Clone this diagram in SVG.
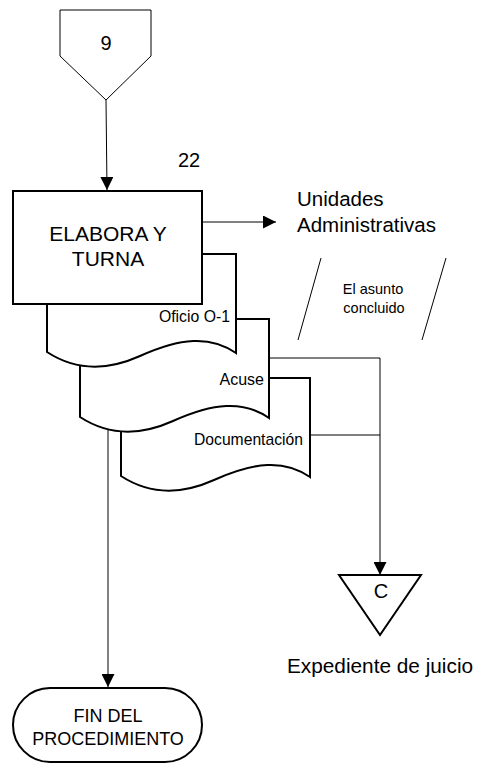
<svg xmlns="http://www.w3.org/2000/svg" width="483" height="764" viewBox="0 0 483 764">
<style>
text{font-family:"Liberation Sans",Arial,sans-serif;fill:#000}
.shape{fill:#fff;stroke:#000;stroke-width:2}
.thin{fill:#fff;stroke:#000;stroke-width:1}
.conn{fill:none;stroke:#000;stroke-width:1}
.mid{text-anchor:middle}
.end{text-anchor:end}
</style>
<defs>
<marker id="arr" viewBox="0 0 10 10" refX="10" refY="5" markerWidth="13" markerHeight="13" markerUnits="userSpaceOnUse" orient="auto">
<path d="M0,0 L10,5 L0,10 Z" fill="#000"/>
</marker>
<path id="doc" d="M0,0 H189 V99 C163,81 133,84 93,102 C53,120 23,113 0,98 Z"/>
</defs>
<rect width="483" height="764" fill="#fff"/>

<g id="connectors">
<line class="conn" x1="106" y1="100" x2="107" y2="190" marker-end="url(#arr)"/>
<line class="conn" x1="202" y1="222" x2="276" y2="222" marker-end="url(#arr)"/>
<polyline class="conn" points="269,358 380,358 380,575" marker-end="url(#arr)"/>
<line class="conn" x1="309" y1="435" x2="380" y2="435"/>
<line class="conn" x1="108" y1="429" x2="108" y2="687" marker-end="url(#arr)"/>
<line class="conn" x1="321" y1="258" x2="298" y2="340"/>
<line class="conn" x1="446" y1="258" x2="422" y2="340"/>
</g>

<g id="node-9">
<polygon class="thin" points="60,10 151,10 151,56 106,100 60,56"/>
<text x="106" y="50" class="mid" font-size="20">9</text>
</g>

<g id="label-22">
<text x="189" y="167" class="mid" font-size="20">22</text>
</g>

<g id="doc-documentacion">
<use href="#doc" class="shape" transform="translate(121,378)"/>
<text x="303" y="445" class="end" font-size="15.7">Documentación</text>
</g>

<g id="doc-acuse">
<use href="#doc" class="shape" transform="translate(80,319)"/>
<text x="264" y="385" class="end" font-size="16">Acuse</text>
</g>

<g id="doc-oficio">
<use href="#doc" class="shape" transform="translate(47,254)"/>
<text x="230" y="322" class="end" font-size="15.8">Oficio O-1</text>
</g>

<g id="node-elabora">
<rect class="shape" x="13" y="191" width="189" height="113"/>
<text x="108" y="241" class="mid" font-size="21">ELABORA Y</text>
<text x="108" y="266" class="mid" font-size="21">TURNA</text>
</g>

<g id="label-unidades">
<text x="297" y="206" font-size="20.5">Unidades</text>
<text x="297" y="232" font-size="20.5">Administrativas</text>
</g>

<g id="label-asunto">
<text x="373" y="294" class="mid" font-size="14.5">El asunto</text>
<text x="374" y="313" class="mid" font-size="14.5">concluido</text>
</g>

<g id="node-c">
<polygon class="shape" points="339,575 421,575 380,635"/>
<text x="381" y="598" class="mid" font-size="20">C</text>
<text x="380" y="673" class="mid" font-size="20.8">Expediente de juicio</text>
</g>

<g id="node-fin">
<rect class="shape" x="13" y="688" width="189" height="74" rx="37" ry="37"/>
<text x="108" y="722" class="mid" font-size="18">FIN DEL</text>
<text x="108" y="745" class="mid" font-size="18">PROCEDIMIENTO</text>
</g>
</svg>
